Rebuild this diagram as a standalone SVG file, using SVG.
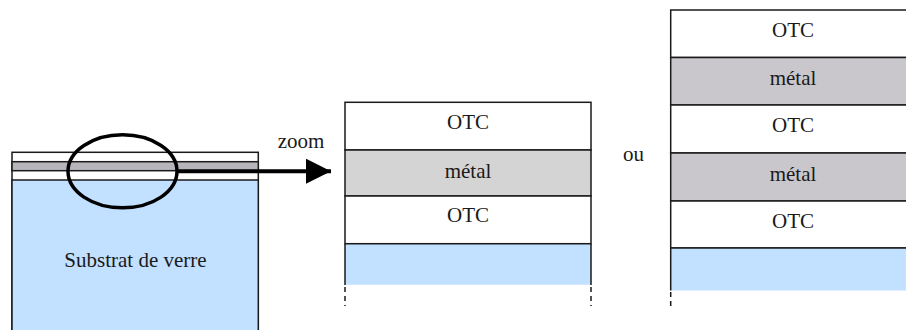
<svg xmlns="http://www.w3.org/2000/svg" width="906" height="330" viewBox="0 0 906 330">
<defs>
<style>
.t{font-size:21px;fill:#1a1a1a;text-anchor:middle}
.b{stroke:#1a1a1a;stroke-width:1.5}
.w{fill:#ffffff}
.m1{fill:#d4d4d4}
.m2{fill:#c9c7cc}
.m0{fill:#b7b4bb}
.g{fill:#c2e0ff}
.d{stroke:#1a1a1a;stroke-width:1.5;stroke-dasharray:5 4;fill:none}
</style>
<marker id="ah" markerWidth="25" markerHeight="25" viewBox="0 0 25 25" refX="25" refY="12.5" markerUnits="userSpaceOnUse" orient="auto">
<path d="M0,0 L25,12.5 L0,25 Z" fill="#000"/>
</marker>
</defs>
<rect width="906" height="330" fill="#ffffff"/>
<g font-family="Liberation Serif, DejaVu Serif, serif">
<g id="substrate">
<rect x="12" y="152.3" width="246.3" height="190" class="w b"/>
<rect x="12" y="161.7" width="246.3" height="9" class="m0 b"/>
<rect x="12" y="180" width="246.3" height="160" class="g b"/>
<text x="135.5" y="267" class="t">Substrat de verre</text>
</g>

<g id="stack1">
<rect x="345" y="102.3" width="246" height="47.7" class="w b"/>
<rect x="345" y="150" width="246" height="46" class="m1 b"/>
<rect x="345" y="196" width="246" height="47.7" class="w b"/>
<rect x="345" y="243.7" width="246" height="41" class="g"/>
<path d="M345,243.7 V285 M591,243.7 V285" class="b" fill="none"/>
<path d="M345,243.7 H591" class="b"/>
<path d="M345,287 V306 M591,287 V306" class="d"/>
<text x="468" y="129.4" class="t">OTC</text>
<text x="468" y="177.7" class="t">métal</text>
<text x="468" y="222" class="t">OTC</text>
</g>

<g id="stack2">
<rect x="670.7" y="10" width="246" height="47.5" class="w b"/>
<rect x="670.7" y="57.5" width="246" height="47.5" class="m2 b"/>
<rect x="670.7" y="105" width="246" height="48" class="w b"/>
<rect x="670.7" y="153" width="246" height="48" class="m2 b"/>
<rect x="670.7" y="201" width="246" height="47" class="w b"/>
<rect x="670.7" y="248" width="246" height="42.5" class="g"/>
<path d="M670.7,248 V290.5" class="b" fill="none"/>
<path d="M670.7,248 H906" class="b"/>
<path d="M670.7,292 V309" class="d"/>
<text x="793" y="37.4" class="t">OTC</text>
<text x="793" y="85" class="t">métal</text>
<text x="793" y="132" class="t">OTC</text>
<text x="793" y="180.5" class="t">métal</text>
<text x="793" y="228" class="t">OTC</text>
</g>

<g id="labels">
<text x="301" y="148" class="t">zoom</text>
<text x="633.5" y="161" class="t">ou</text>
</g>
</g>
<g id="connectors">
<ellipse cx="122.5" cy="171.3" rx="54.5" ry="36.5" fill="none" stroke="#000" stroke-width="3.5"/>
<path d="M177,171.2 H331" stroke="#000" stroke-width="4" fill="none" marker-end="url(#ah)"/>
</g>
</svg>
